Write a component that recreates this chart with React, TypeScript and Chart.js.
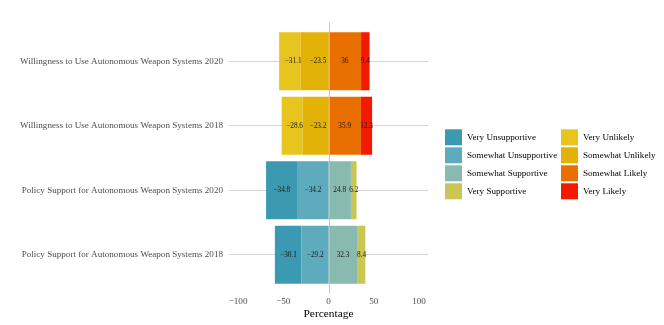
import { useEffect, useRef } from "react";
import { Chart, registerables } from "chart.js";

Chart.register(...registerables);

const categories = [
  "Willingness to Use Autonomous Weapon Systems 2020",
  "Willingness to Use Autonomous Weapon Systems 2018",
  "Policy Support for Autonomous Weapon Systems 2020",
  "Policy Support for Autonomous Weapon Systems 2018",
];

const somewhatUnlikely = [-23.5, -23.2, null, null];
const veryUnlikely = [-31.1, -28.6, null, null];
const somewhatLikely = [36, 35.9, null, null];
const veryLikely = [9.4, 12.3, null, null];
const somewhatUnsupportive = [null, null, -34.2, -29.2];
const veryUnsupportive = [null, null, -34.8, -30.1];
const somewhatSupportive = [null, null, 24.8, 32.3];
const verySupportive = [null, null, 6.2, 8.4];

const xTicks = [-100, -50, 0, 50, 100];

const legendCol1 = ["Very Unsupportive", "Somewhat Unsupportive", "Somewhat Supportive", "Very Supportive"];
const legendCol2 = ["Very Unlikely", "Somewhat Unlikely", "Somewhat Likely", "Very Likely"];

const colors: Record<string, string> = {
  "Very Unsupportive": "#3B9AB2",
  "Somewhat Unsupportive": "#5EABBD",
  "Somewhat Supportive": "#88BAAF",
  "Very Supportive": "#CAC656",
  "Very Unlikely": "#E8C41E",
  "Somewhat Unlikely": "#E2B306",
  "Somewhat Likely": "#E86F00",
  "Very Likely": "#F21A00",
};

// order in which the text labels are stacked outward from zero (as in the reference)
const labelStackOrder = [
  somewhatUnlikely,
  veryUnlikely,
  somewhatLikely,
  veryLikely,
  somewhatUnsupportive,
  veryUnsupportive,
  somewhatSupportive,
  verySupportive,
];

const FONT = "'Liberation Serif', 'Times New Roman', serif";

const fmt = (v: number) => (v < 0 ? "\u2212" + Math.abs(v) : String(v));

const labelPlugin = {
  id: "segLabels",
  afterDatasetsDraw(chart: any) {
    const ctx = chart.ctx;
    const xs = chart.scales.x;
    const ys = chart.scales.y;
    ctx.save();
    ctx.font = `7.3px ${FONT}`;
    ctx.fillStyle = "#1a1a1a";
    ctx.textAlign = "center";
    ctx.textBaseline = "middle";
    categories.forEach((_, j) => {
      let pos = 0;
      let neg = 0;
      labelStackOrder.forEach((series) => {
        const v = series[j];
        if (v === null || v === undefined) return;
        let c: number;
        if (v < 0) {
          c = neg + v / 2;
          neg += v;
        } else {
          c = pos + v / 2;
          pos += v;
        }
        ctx.fillText(fmt(v), xs.getPixelForValue(c), ys.getPixelForValue(j));
      });
    });
    // zero line
    const ca = chart.chartArea;
    const x0 = Math.round(xs.getPixelForValue(0)) + 0.5;
    ctx.strokeStyle = "rgba(190,190,190,0.9)";
    ctx.lineWidth = 1;
    ctx.beginPath();
    ctx.moveTo(x0, ca.top - 6.5);
    ctx.lineTo(x0, ca.bottom + 6.5);
    ctx.stroke();
    ctx.restore();
  },
};

const legendPlugin = {
  id: "customLegend",
  afterDraw(chart: any) {
    const ctx = chart.ctx;
    ctx.save();
    ctx.font = `9.1px ${FONT}`;
    ctx.textAlign = "left";
    ctx.textBaseline = "middle";
    const cols = [
      { items: legendCol1, x: 445 },
      { items: legendCol2, x: 561 },
    ];
    cols.forEach((col) => {
      col.items.forEach((name, k) => {
        const top = 129.3 + k * 18;
        ctx.fillStyle = colors[name];
        ctx.fillRect(col.x, top, 17, 16);
        ctx.fillStyle = "#000";
        ctx.fillText(name, col.x + 22, top + 8.3);
      });
    });
    ctx.restore();
  },
};

export default function App() {
  const ref = useRef<HTMLCanvasElement>(null);
  useEffect(() => {
    if (!ref.current) return;
    const mk = (name: string, data: (number | null)[]) => ({
      label: name,
      data,
      backgroundColor: colors[name],
      borderWidth: 0,
      stack: "s",
      categoryPercentage: 0.9,
      barPercentage: 1,
    });
    const chart = new Chart(ref.current, {
      type: "bar",
      data: {
        labels: categories,
        // bar segments as drawn in the reference (inner segment first)
        datasets: [
          mk("Somewhat Unlikely", veryUnlikely),
          mk("Very Unlikely", somewhatUnlikely),
          mk("Somewhat Likely", somewhatLikely),
          mk("Very Likely", veryLikely),
          mk("Somewhat Unsupportive", veryUnsupportive),
          mk("Very Unsupportive", somewhatUnsupportive),
          mk("Somewhat Supportive", somewhatSupportive),
          mk("Very Supportive", verySupportive),
        ] as any,
      },
      options: {
        indexAxis: "y",
        responsive: false,
        animation: false,
        layout: { padding: { top: 29, right: 236, left: 0, bottom: 0 } },
        plugins: {
          legend: { display: false },
          tooltip: { enabled: false },
          title: { display: false },
        },
        scales: {
          x: {
            type: "linear",
            min: -110,
            max: 110,
            stacked: true,
            afterBuildTicks: (s: any) => {
              s.ticks = xTicks.map((v) => ({ value: v }));
            },
            afterFit: (s: any) => {
              s.height = 38;
            },
            grid: { display: false, drawTicks: false },
            border: { display: false },
            ticks: {
              padding: 9,
              color: "#4d4d4d",
              font: { family: FONT, size: 9.1 },
              callback: (v: any) => fmt(Number(v)),
            },
            title: {
              display: true,
              text: "Percentage",
              color: "#000",
              font: { family: FONT, size: 11.4 },
              padding: { top: 0, bottom: 4 },
            },
          },
          y: {
            type: "category",
            stacked: true,
            afterFit: (s: any) => {
              s.width = 229;
            },
            grid: {
              offset: false,
              drawTicks: false,
              color: "#d6d6d6",
              lineWidth: 1,
            },
            border: { display: false },
            ticks: {
              padding: 6,
              color: "#4d4d4d",
              font: { family: FONT, size: 9.1 },
            },
          },
        },
      } as any,
      plugins: [labelPlugin, legendPlugin],
    });
    return () => chart.destroy();
  }, []);
  return (
    <div style={{ position: "absolute", left: 0, top: 0, width: 664, height: 325, background: "#fff" }}>
      <canvas ref={ref} width={664} height={325} style={{ width: 664, height: 325 }} />
    </div>
  );
}
